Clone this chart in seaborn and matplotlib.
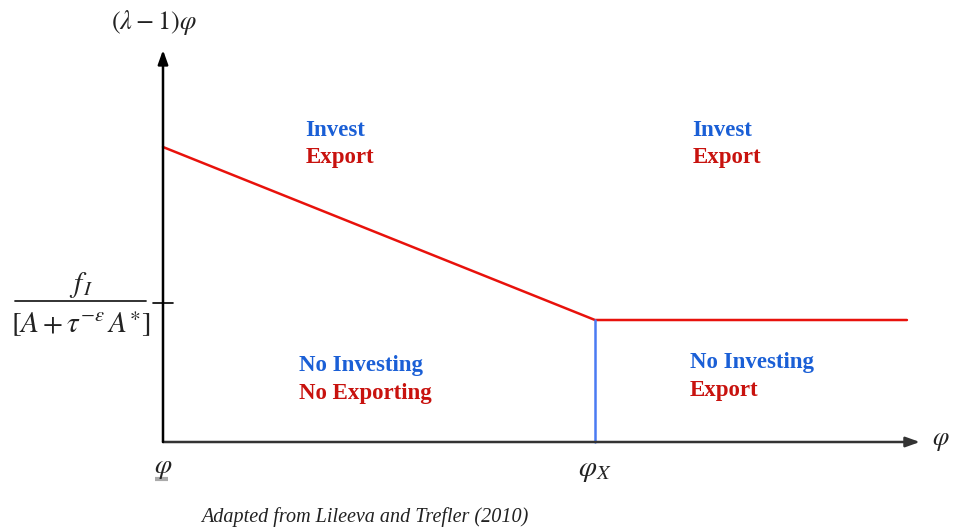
import matplotlib
matplotlib.use("Agg")
import matplotlib.pyplot as plt
import seaborn as sns
import pandas as pd

sns.set_theme(style="white")
plt.rcParams['mathtext.fontset'] = 'stix'
plt.rcParams['font.family'] = ['Liberation Serif', 'DejaVu Serif']

# Data (conceptual units: phi_X = 1, threshold f_I level = 1)
boundary_x = [0.0, 1.0, 1.722]
boundary_y = [2.418, 1.0, 1.0]
export_cut_x = [1.0, 1.0]
export_cut_y = [0.0, 1.0]
x_axis_end = 1.752
y_axis_end = 3.213
tick_level = 1.14
region_top = ["Invest", "Export"]
region_bl = ["No Investing", "No Exporting"]
region_br = ["No Investing", "Export"]
caption = "Adapted from Lileeva and Trefler (2010)"

RED = "#e8120c"
DRED = "#c8120e"
BLUE = "#1a5fd6"
LBLUE = "#4a7bf2"
INK = "#222222"

fig = plt.figure(figsize=(9.7, 5.32), dpi=100)
ax = fig.add_axes([0, 0, 1, 1])
ax.set_xlim(-0.3773, 1.868)
ax.set_ylim(-0.7377, 3.623)
ax.axis('off')

df_b = pd.DataFrame({"x": boundary_x, "y": boundary_y})
df_c = pd.DataFrame({"x": export_cut_x, "y": export_cut_y})
sns.lineplot(data=df_b, x="x", y="y", ax=ax, color=RED, lw=1.8, sort=False, estimator=None)
sns.lineplot(data=df_c, x="x", y="y", ax=ax, color=LBLUE, lw=1.8, sort=False, estimator=None)

# axes with arrows
arrow = dict(arrowstyle="-|>,head_length=0.7,head_width=0.25", color="#333333", lw=1.8,
             shrinkA=0, shrinkB=0)
ax.annotate("", xy=(x_axis_end, 0), xytext=(0, 0), arrowprops=arrow)
ax.annotate("", xy=(0, y_axis_end), xytext=(0, 0), arrowprops=dict(arrow, color="black"))
# tick on y axis
ax.plot([-0.022, 0.022], [tick_level, tick_level], color="black", lw=1.2)

# axis labels
ax.text(-0.02, 3.44, r"$(\lambda-1)\varphi$", fontsize=19, ha="center", va="center", color=INK)
# threshold label as a built-up fraction
ax.text(-0.19, 1.29, r"$f_{\,I}$", fontsize=21, ha="center", va="center", color=INK)
ax.plot([-0.343, -0.04], [1.155, 1.155], color=INK, lw=1.3)
ax.text(-0.19, 0.97, r"$\left[A+\tau^{-\varepsilon}\,A^{\ast}\right]$", fontsize=21,
        ha="center", va="center", color=INK)
ax.text(0.0, -0.22, r"$\varphi$", fontsize=20, ha="center", va="center", color=INK)
ax.plot([-0.018, 0.012], [-0.3, -0.3], color="#aaaaaa", lw=3, solid_capstyle="butt")
ax.text(1.0, -0.24, r"$\varphi_X$", fontsize=21, ha="center", va="center", color=INK)
ax.text(x_axis_end + 0.027, 0.0, r"$\varphi$", fontsize=19, ha="left", va="center", color=INK)

# region labels
kw = dict(fontsize=16.5, fontweight="bold", ha="left", va="center")
ax.text(0.33, 2.55, region_top[0], color=BLUE, **kw)
ax.text(0.33, 2.33, region_top[1], color=DRED, **kw)
ax.text(1.225, 2.55, region_top[0], color=BLUE, **kw)
ax.text(1.225, 2.33, region_top[1], color=DRED, **kw)
ax.text(0.315, 0.63, region_bl[0], color=BLUE, **kw)
ax.text(0.315, 0.40, region_bl[1], color=DRED, **kw)
ax.text(1.22, 0.655, region_br[0], color=BLUE, **kw)
ax.text(1.22, 0.425, region_br[1], color=DRED, **kw)

ax.text(0.468, -0.615, caption, fontsize=14.5, style="italic", ha="center", va="center", color=INK)

fig.savefig("out.png", dpi=100)
